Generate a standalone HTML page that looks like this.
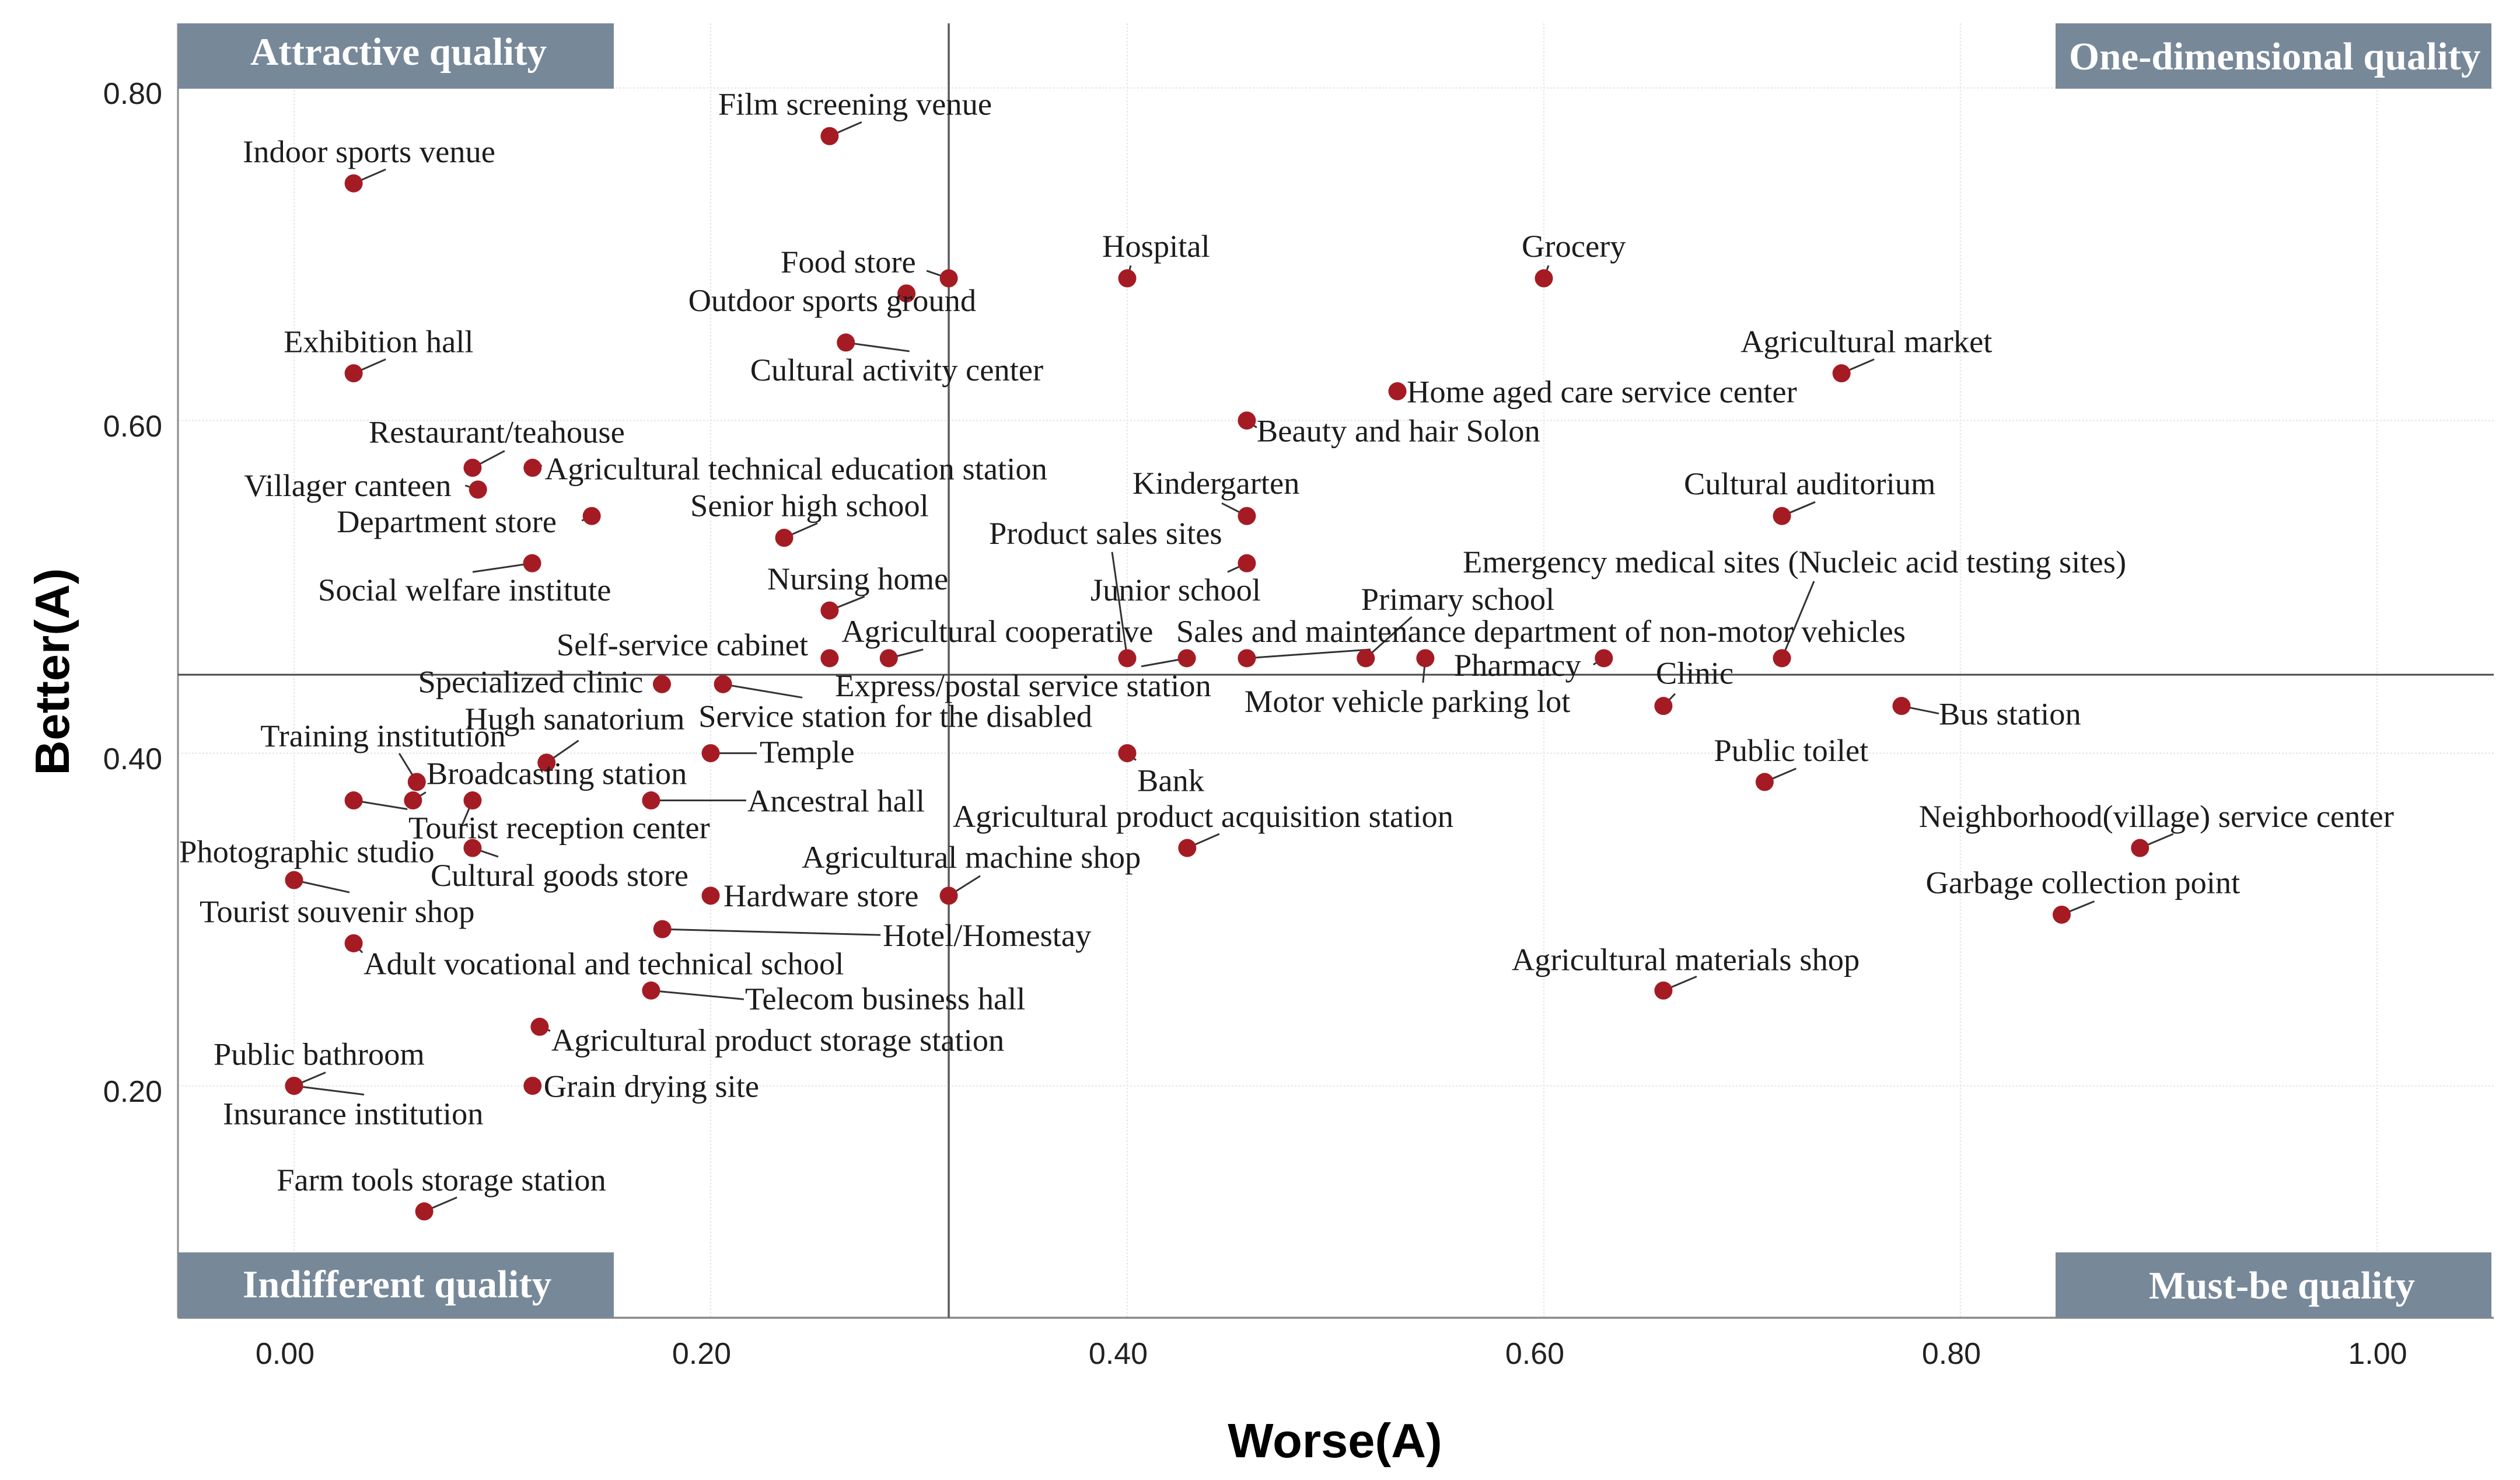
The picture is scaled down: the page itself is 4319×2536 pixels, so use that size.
<!DOCTYPE html>
<html lang="en">
<head>
<meta charset="utf-8">
<title>Kano quality scatter chart</title>
<style>
html,body{margin:0;padding:0;background:#fff;}
#chart{display:block;width:4319px;height:2536px;}
.lab{font-family:"Liberation Serif",serif;font-size:54.5px;fill:#1c1c1c;}
.tick{font-family:"Liberation Sans",sans-serif;font-size:52px;fill:#222;}
.axt{font-family:"Liberation Sans",sans-serif;font-size:83px;font-weight:bold;fill:#000;}
.q{font-family:"Liberation Serif",serif;font-size:67px;font-weight:bold;fill:#fff;}
</style>
</head>
<body>
<svg id="chart" xmlns="http://www.w3.org/2000/svg" width="4319" height="2536" viewBox="0 0 4319 2536">
  <rect x="0" y="0" width="4319" height="2536" fill="#ffffff"/>
  <g id="grid"></g>
  <g id="axes"></g>
  <g id="leaders"></g>
  <g id="points"></g>
  <g id="quadrants"></g>
  <g id="labels"></g>
  <g id="ticks"></g>
  <text class="axt" x="2288" y="2497" text-anchor="middle">Worse(A)</text>
  <text class="axt" x="118" y="1151" text-anchor="middle" transform="rotate(-90 118 1151)">Better(A)</text>
</svg>
<script>
var xTicks = [0, 0.2, 0.4, 0.6, 0.8, 1.0];
var yTicks = [0.2, 0.4, 0.6, 0.8];
var xTickLabels = ["0.00", "0.20", "0.40", "0.60", "0.80", "1.00"];
var yTickLabels = ["0.20", "0.40", "0.60", "0.80"];
var meanWorse = 0.3143;
var meanBetter = 0.4472;

var names = [
"Indoor sports venue","Film screening venue","Exhibition hall","Restaurant/teahouse","Agricultural technical education station",
"Villager canteen","Department store","Social welfare institute","Senior high school","Nursing home",
"Self-service cabinet","Specialized clinic","Service station for the disabled","Food store","Outdoor sports ground",
"Cultural activity center","Hospital","Grocery","Home aged care service center","Beauty and hair Solon",
"Kindergarten","Product sales sites","Junior school","Agricultural cooperative","Express/postal service station",
"Sales and maintenance department of non-motor vehicles","Primary school","Motor vehicle parking lot","Pharmacy","Clinic",
"Agricultural market","Cultural auditorium","Emergency medical sites (Nucleic acid testing sites)","Bus station","Temple",
"Hugh sanatorium","Training institution","Broadcasting station","Photographic studio","Tourist reception center",
"Ancestral hall","Cultural goods store","Tourist souvenir shop","Hardware store","Hotel/Homestay",
"Adult vocational and technical school","Telecom business hall","Agricultural product storage station","Grain drying site","Public bathroom",
"Insurance institution","Farm tools storage station","Bank","Agricultural product acquisition station","Agricultural machine shop",
"Agricultural materials shop","Public toilet","Neighborhood(village) service center","Garbage collection point"
];
var worse = [
0.0286,0.2571,0.0286,0.0857,0.1145,
0.0883,0.1429,0.1143,0.2353,0.2571,
0.2571,0.1766,0.2059,0.3143,0.2940,
0.2649,0.4000,0.6000,0.5297,0.4574,
0.4574,0.4000,0.4574,0.2855,0.4286,
0.4574,0.5145,0.5431,0.6288,0.6574,
0.7429,0.7143,0.7143,0.7717,0.2000,
0.1212,0.0589,0.0571,0.0286,0.0857,
0.1714,0.0857,0.0000,0.2000,0.1768,
0.0286,0.1714,0.1179,0.1145,0.0000,
0.0000,0.0625,0.4000,0.4288,0.3143,
0.6574,0.7060,0.8862,0.8486
];
var better = [
0.7426,0.7710,0.6284,0.5716,0.5716,
0.5585,0.5426,0.5142,0.5295,0.4858,
0.4571,0.4415,0.4415,0.6855,0.6764,
0.6469,0.6855,0.6855,0.6176,0.6000,
0.5426,0.4571,0.5142,0.4571,0.4571,
0.4571,0.4571,0.4571,0.4571,0.4284,
0.6284,0.5426,0.4571,0.4284,0.4000,
0.3943,0.3827,0.3716,0.3716,0.3716,
0.3716,0.3430,0.3237,0.3143,0.2942,
0.2857,0.2573,0.2355,0.2000,0.2000,
0.2000,0.1245,0.4000,0.3430,0.3143,
0.2573,0.3827,0.3430,0.3029
];

/* Annotation layout, not data: label offset and leader end offset from each point */
var annotationLayout = {
"Indoor sports venue":[-190,-36,55,-24],"Film screening venue":[-191,-37,55,-24],"Exhibition hall":[-120,-36,55,-24],
"Restaurant/teahouse":[-178,-43,55,-29],"Agricultural technical education station":[21,20,16,-4],"Villager canteen":[-401,11,-22,-7],
"Department store":[-437,28,-17,8],"Social welfare institute":[-367,64,-102,15],"Senior high school":[-161,-37,57,-25],
"Nursing home":[-107,-36,60,-24],"Self-service cabinet":[-468,-5,0,0],"Specialized clinic":[-418,14,-14,-2],
"Service station for the disabled":[-42,73,136,23],"Food store":[-288,-10,-38,-13],"Outdoor sports ground":[-374,30,0,0],
"Cultural activity center":[-164,65,109,15],"Hospital":[-43,-37,6,-22],"Grocery":[-38,-37,8,-22],
"Home aged care service center":[16,19,0,0],"Beauty and hair Solon":[17,36,17,12],"Kindergarten":[-196,-38,-43,-22],
"Product sales sites":[-237,-196,-26,-182],"Junior school":[-268,64,-33,15],"Agricultural cooperative":[-81,-28,59,-15],
"Express/postal service station":[-603,65,-78,14],"Sales and maintenance department of non-motor vehicles":[-121,-28,212,-15],
"Primary school":[-8,-83,79,-71],"Motor vehicle parking lot":[-310,92,-4,42],"Pharmacy":[-257,30,-18,11],"Clinic":[-13,-38,20,-21],
"Agricultural market":[-173,-36,56,-24],"Cultural auditorium":[-168,-37,57,-24],
"Emergency medical sites (Nucleic acid testing sites)":[-547,-147,55,-132],"Bus station":[64,32,64,13],"Temple":[84,16,79,0],
"Hugh sanatorium":[-140,-57,55,-38],"Training institution":[-268,-61,-30,-49],"Broadcasting station":[23,-28,22,-14],
"Photographic studio":[-299,106,92,15],"Tourist reception center":[-110,65,-20,47],"Ancestral hall":[165,19,163,0],
"Cultural goods store":[-72,65,44,15],"Tourist souvenir shop":[-162,72,95,21],"Hardware store":[22,18,0,0],"Hotel/Homestay":[378,29,374,10],
"Adult vocational and technical school":[17,53,15,16],"Telecom business hall":[161,32,159,15],
"Agricultural product storage station":[20,41,18,7],"Grain drying site":[19,19,0,0],"Public bathroom":[-138,-36,54,-23],
"Insurance institution":[-122,66,120,15],"Farm tools storage station":[-253,-36,56,-24],"Bank":[17,65,15,12],
"Agricultural product acquisition station":[-402,-36,55,-24],"Agricultural machine shop":[-252,-48,54,-34],
"Agricultural materials shop":[-260,-35,57,-24],"Public toilet":[-87,-36,54,-23],
"Neighborhood(village) service center":[-379,-36,57,-24],"Garbage collection point":[-233,-37,56,-23]
};

var plotLeft = 305, plotRight = 4274, plotTop = 40, plotBottom = 2258;
function xScale(v){ return 504 + 3570 * v; }
function yScale(v){ return 150.6 + (0.8 - v) * 2850; }
var NS = "http://www.w3.org/2000/svg";
function make(parentId, tag, attrs, text){
  var el = document.createElementNS(NS, tag);
  for (var k in attrs) el.setAttribute(k, attrs[k]);
  if (text !== undefined) el.textContent = text;
  document.getElementById(parentId).appendChild(el);
  return el;
}
function slug(s){ return s.toLowerCase().replace(/[^a-z0-9]+/g, "-").replace(/^-|-$/g, ""); }

xTicks.forEach(function(t, i){
  var line = make("grid", "line", {x1:xScale(t), x2:xScale(t), y1:plotTop, y2:plotBottom, stroke:"#e9e9e9", "stroke-width":2.5, "stroke-dasharray":"3 3"});
  
  
  var shift = xTickLabels[i] === "1.00" ? 1 : -15.5;
  var lab = make("ticks", "text", {class:"tick", x:xScale(t) + shift, y:2337, "text-anchor":"middle"}, xTickLabels[i]);
  
  
});
yTicks.forEach(function(t, i){
  var line = make("grid", "line", {x1:plotLeft, x2:plotRight, y1:yScale(t), y2:yScale(t), stroke:"#e9e9e9", "stroke-width":2.5, "stroke-dasharray":"3 3"});
  
  
  var lab = make("ticks", "text", {class:"tick", x:278, y:yScale(t) + 27.5, "text-anchor":"end"}, yTickLabels[i]);
  
  
});

var yAxis = make("axes", "line", {x1:plotLeft, x2:plotLeft, y1:plotTop, y2:plotBottom, stroke:"#8a8a8a", "stroke-width":3});


var xAxis = make("axes", "line", {x1:plotLeft, x2:plotRight, y1:plotBottom, y2:plotBottom, stroke:"#8a8a8a", "stroke-width":3.5});


var meanV = make("axes", "line", {x1:xScale(meanWorse), x2:xScale(meanWorse), y1:plotTop, y2:plotBottom, stroke:"#5a5a5a", "stroke-width":3.5});


var meanH = make("axes", "line", {x1:plotLeft, x2:plotRight, y1:yScale(meanBetter), y2:yScale(meanBetter), stroke:"#4a4a4a", "stroke-width":3});



names.forEach(function(name, i){
  var px = xScale(worse[i]), py = yScale(better[i]);
  var a = annotationLayout[name];
  if (a[2] !== 0 || a[3] !== 0) {
    var leader = make("leaders", "line", {x1:px, y1:py, x2:px + a[2], y2:py + a[3], stroke:"#333", "stroke-width":3});
    
    
  }
  var dot = make("points", "circle", {cx:px, cy:py, r:15.5, fill:"#a51b24"});
  
  
  var label = make("labels", "text", {class:"lab", x:px + a[0], y:py + a[1]}, name);
  
  
});
</script>
<script>
(function(){
  var NS = "http://www.w3.org/2000/svg";
  var parent = document.getElementById("quadrants");
  function box(x, y, w, h, name){
    var r = document.createElementNS(NS, "rect");
    r.setAttribute("x", x); r.setAttribute("y", y); r.setAttribute("width", w); r.setAttribute("height", h); r.setAttribute("fill", "#778899");
    
    
    parent.appendChild(r);
  }
  function cap(x, y, text, name){
    var t = document.createElementNS(NS, "text");
    t.setAttribute("class", "q"); t.setAttribute("x", x); t.setAttribute("y", y); t.textContent = text;
    
    
    parent.appendChild(t);
  }
  box(305, 40, 747, 112, "attractive-quality");
  box(3523, 40, 747, 112, "one-dimensional-quality");
  box(305, 2146, 747, 112, "indifferent-quality");
  box(3523, 2146, 747, 112, "must-be-quality");
  cap(429, 111, "Attractive quality", "attractive-quality");
  cap(3546, 119, "One-dimensional quality", "one-dimensional-quality");
  cap(416, 2223, "Indifferent quality", "indifferent-quality");
  cap(3683, 2225, "Must-be quality", "must-be-quality");
})();
</script>
</body>
</html>
